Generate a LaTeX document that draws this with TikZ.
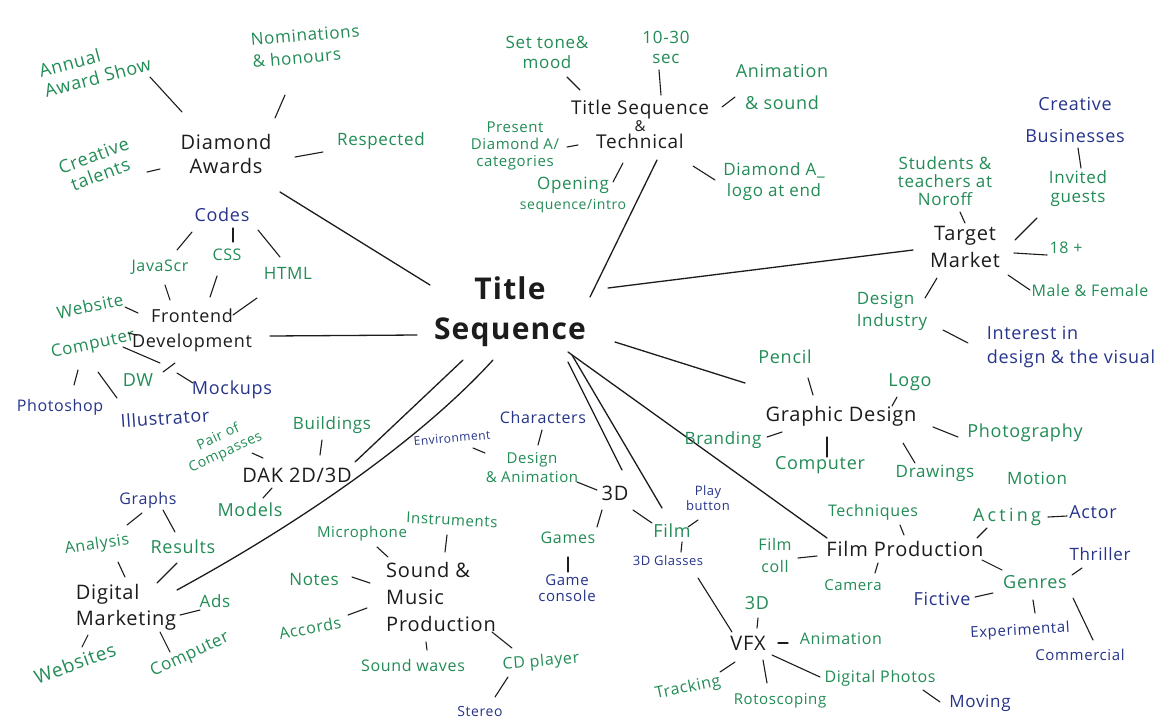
\documentclass[tikz,border=0pt]{standalone}
\usepackage{fontspec}
\setmainfont{Open Sans}[LetterSpace=4]
\usetikzlibrary{calc}
\definecolor{gr}{RGB}{34,140,86}
\definecolor{bl}{RGB}{38,52,138}
\definecolor{ink}{RGB}{28,28,28}
\tikzset{
  fs/.style n args={2}{font=\fontsize{#1}{#2}\selectfont},
  tsnode/.style={text=ink, inner sep=2pt, align=center, font=\bfseries\fontsize{30}{40}\selectfont},
  hub/.style={text=ink, inner sep=2pt, align=center, font=\fontsize{20}{24}\selectfont},
  gl/.style={text=gr, inner sep=2pt, align=center, font=\fontsize{16}{19}\selectfont},
  bll/.style={text=bl, inner sep=2pt, align=center, font=\fontsize{16}{19}\selectfont},
  con/.style={draw=ink, line width=1.1pt, line cap=round},
  mainline/.style={draw=ink, line width=1.3pt, line cap=round},
}
% stroke from node #1 (offset #2 from its centre) to node #3 (offset #4)
\newcommand\mlink[4]{\draw[con] ([shift={#2}]#1.center) -- ([shift={#4}]#3.center);}
\begin{document}
\begin{tikzpicture}[x=1pt,y=-1pt]
\fill[white] (0,0) rectangle (1173,724);
\useasboundingbox (0,0) rectangle (1173,724);

% centre
\node[tsnode] (ts) at (510,312) {Title\\Sequence};

% hubs
\node[hub] (da) at (226,154) {Diamond\\Awards};
\node[hub, fs={19}{17}] (tst) at (640,124) {Title Sequence\\{\fontsize{15}{17}\selectfont\&}\\Technical};
\node[hub, fs={20}{27}] (tm) at (965,247) {Target\\Market};
\node[hub, fs={18}{25}] (fd) at (192,330) {Frontend\\Development};
\node[hub] (dak) at (297,475) {DAK 2D/3D};
\node[hub, fs={20}{26}, align=left] (dm) at (126,607) {Digital\\Marketing};
\node[hub, fs={20}{27}, align=left, anchor=west] (smp) at (384,597) {Sound \&\\Music\\Production};
\coordinate (smpw) at (smp.west);
\node[hub] (d3) at (615,493) {3D};
\node[gl, fs={18}{20}] (film) at (672,531) {Film};
\node[hub] (vfx) at (748,643) {VFX};
\node[hub] (fp) at (905,549) {Film Production};
\node[hub] (gd) at (841,416) {Graphic Design};

% main branches
\draw[mainline] ([shift={(-80,-27)}]ts.center) -- ([shift={(54,38)}]da.center);
\draw[mainline] ([shift={(80,-15)}]ts.center) -- ([shift={(17,36)}]tst.center);
\draw[mainline] ([shift={(98,-24)}]ts.center) -- ([shift={(-52,3)}]tm.center);
\draw[mainline] ([shift={(-93,23)}]ts.center) -- ([shift={(78,6)}]fd.center);
\draw[mainline] ([shift={(-47,48)}]ts.center) -- ([shift={(58,-13)}]dak.center);
\draw[mainline] ([shift={(-17,48)}]ts.center) .. controls +(-73,80) and +(123,-67) .. ([shift={(51,-17)}]dm.center);
\draw[mainline] ([shift={(58,50)}]ts.center) -- ([shift={(7,-23)}]d3.center);
\draw[mainline] ([shift={(62,43)}]ts.center) -- ([shift={(-10,-23)}]film.center);
\draw[mainline] ([shift={(58,40)}]ts.center) -- ([shift={(-78,-11)}]fp.center);
\draw[mainline] ([shift={(105,30)}]ts.center) -- ([shift={(-96,-33)}]gd.center);

% Diamond Awards
\node[gl, fs={18}{21}, align=left, rotate=15] (aas) at (95,67) {Annual\\Award Show};
\node[gl, fs={17}{22}, align=left, rotate=5] (nom) at (306,46) {Nominations\\\& honours};
\node[gl, fs={17}{20}] (resp) at (381,141) {Respected};
\node[gl, fs={18}{20}, rotate=20] (ct) at (97,165) {Creative\\talents};
\mlink{da}{(-44,-42)}{aas}{(55,10)}
\mlink{da}{(49,-36)}{nom}{(-21,49)}
\mlink{da}{(69,3)}{resp}{(-58,11)}
\mlink{da}{(-66,15)}{ct}{(50,7)}

% Title Sequence & Technical
\node[gl, fs={17}{20}] (stm) at (547,52) {Set tone\&\\mood};
\node[gl, fs={17}{20}] (sec) at (666,47) {10-30\\sec};
\node[gl, fs={18}{32}] (ans) at (782,87) {Animation\\\& sound};
\node[gl, fs={15}{17}] (pda) at (515,146) {Present\\Diamond A/\\categories};
\node[gl, fs={17}{20}] (osi) at (573,195) {Opening\\{\fontsize{14}{17}\selectfont sequence/intro}};
\node[gl, fs={17}{21}] (dal) at (774,182) {Diamond A\_\\logo at end};
\mlink{tst}{(-60,-34)}{stm}{(20,25)}
\mlink{tst}{(21,-29)}{sec}{(-7,23)}
\mlink{tst}{(82,-17)}{ans}{(-47,10)}
\mlink{tst}{(-62,21)}{pda}{(52,1)}
\mlink{tst}{(-17,39)}{osi}{(40,-13)}
\mlink{tst}{(53,42)}{dal}{(-59,-2)}

% Target Market
\node[gl, fs={17}{18}] (stn) at (945,181) {Students \&\\teachers at\\Noroff};
\node[bll, fs={18}{32}] (cb) at (1075,120) {Creative\\Businesses};
\node[gl, fs={17}{19}] (ig) at (1078,189) {Invited\\guests};
\node[gl] (e18) at (1066,248) {18 +};
\node[gl] (mf) at (1090,290) {Male \& Female};
\node[gl, fs={17}{22}, align=left] (di) at (892,311) {Design\\Industry};
\node[bll, fs={18}{24}, align=left] (itv) at (1071,347) {Interest in\\design \& the visual};
\mlink{tm}{(0,-24)}{stn}{(15,31)}
\mlink{tm}{(50,-7)}{ig}{(-41,29)}
\mlink{ig}{(3,-21)}{cb}{(3,28)}
\mlink{tm}{(49,6)}{e18}{(-19,7)}
\mlink{tm}{(43,28)}{mf}{(-60,0)}
\mlink{tm}{(-28,31)}{di}{(33,-13)}
\mlink{di}{(51,19)}{itv}{(-103,-4)}

% Frontend Development
\node[bll, fs={18}{20}] (codes) at (222,215) {Codes};
\node[gl] (js) at (160,267) {JavaScr};
\node[gl] (css) at (227,255) {CSS};
\node[gl, fs={17}{20}] (html) at (288,273) {HTML};
\node[gl, fs={17}{20}, rotate=12] (web) at (90,306) {Website};
\node[gl, fs={17}{20}, rotate=12] (comp) at (93,345) {Computer};
\node[gl, fs={18}{20}] (dw) at (138,380) {DW};
\node[bll, fs={18}{20}] (mock) at (232,390) {Mockups};
\node[bll] (ps) at (60,407) {Photoshop};
\node[bll, fs={18}{20}, rotate=4] (ill) at (165,418) {Illustrator};
\mlink{codes}{(-30,17)}{js}{(17,-17)}
\mlink{codes}{(11,13)}{css}{(6,-13)}
\mlink{codes}{(36,15)}{html}{(-8,-16)}
\mlink{fd}{(-22,-30)}{js}{(5,18)}
\mlink{fd}{(18,-33)}{css}{(-10,21)}
\mlink{fd}{(41,-15)}{html}{(-31,25)}
\mlink{fd}{(-54,-17)}{web}{(35,1)}
\mlink{fd}{(-55,5)}{comp}{(35,-12)}
\mlink{comp}{(30,2)}{dw}{(22,-17)}
\mlink{fd}{(-17,33)}{dw}{(25,-8)}
\mlink{dw}{(39,-7)}{mock}{(-39,-7)}
\mlink{comp}{(-15,25)}{ps}{(14,-22)}
\mlink{comp}{(5,27)}{ill}{(-48,-20)}

% DAK 2D/3D
\node[gl, fs={14}{17}, rotate=25] (poc) at (222,445) {Pair of\\Compasses};
\node[gl, fs={17}{20}] (bld) at (332,425) {Buildings};
\node[gl, fs={18}{20}] (mod) at (250,510) {Models};
\mlink{dak}{(-34,-17)}{poc}{(30,8)}
\mlink{dak}{(23,-20)}{bld}{(-10,15)}
\mlink{dak}{(-25,13)}{mod}{(13,-12)}

% Digital Marketing
\node[bll] (gra) at (148,500) {Graphs};
\node[gl, rotate=8] (ana) at (97,545) {Analysis};
\node[gl, fs={18}{20}] (res) at (183,547) {Results};
\node[gl, fs={17}{20}] (ads) at (215,601) {Ads};
\node[gl, fs={19}{20}, rotate=20] (webs) at (75,663) {Websites};
\node[gl, fs={17}{20}, rotate=25] (cmp2) at (190,655) {Computer};
\mlink{gra}{(-6,13)}{ana}{(30,-20)}
\mlink{gra}{(15,10)}{res}{(-8,-15)}
\mlink{dm}{(-1,-30)}{ana}{(21,17)}
\mlink{dm}{(31,-24)}{res}{(-6,16)}
\mlink{dm}{(54,8)}{ads}{(-15,9)}
\mlink{dm}{(-38,28)}{webs}{(7,-16)}
\mlink{dm}{(34,25)}{cmp2}{(-20,-3)}

% Sound & Music Production
\node[gl, fs={15}{18}] (mic) at (362,534) {Microphone};
\node[gl, fs={15}{18}, rotate=-3] (ins) at (452,520) {Instruments};
\node[gl, fs={17}{20}] (notes) at (314,580) {Notes};
\node[gl, rotate=10] (acc) at (310,628) {Accords};
\node[gl] (sw) at (413,665) {Sound waves};
\node[gl, rotate=5] (cd) at (541,662) {CD player};
\node[bll, fs={14}{16}] (ster) at (480,711) {Stereo};
\mlink{smpw}{(4,-40)}{mic}{(15,13)}
\mlink{smpw}{(61,-45)}{ins}{(-5,15)}
\mlink{smpw}{(-14,-14)}{notes}{(38,-3)}
\mlink{smpw}{(-17,11)}{acc}{(38,-13)}
\mlink{smpw}{(42,45)}{sw}{(14,-15)}
\mlink{smpw}{(108,35)}{cd}{(-29,-14)}
\mlink{cd}{(-33,15)}{ster}{(15,-14)}

% 3D
\node[gl, fs={15}{19}] (dan) at (532,468) {Design\\\& Animation};
\node[bll] (chr) at (543,417) {Characters};
\node[bll, fs={12}{14}, rotate=5] (env) at (452,438) {Environment};
\node[gl] (gam) at (568,538) {Games};
\node[bll, fs={15}{16}] (gc) at (567,588) {Game\\console};
\mlink{d3}{(-18,-3)}{dan}{(45,14)}
\mlink{dan}{(6,-23)}{chr}{(-1,13)}
\mlink{dan}{(-47,-15)}{env}{(21,10)}
\mlink{d3}{(-13,17)}{gam}{(29,-11)}
\mlink{gam}{(0,19)}{gc}{(1,-16)}
\mlink{d3}{(18,17)}{film}{(-20,-8)}

% Film
\node[bll, fs={13}{15}] (pb) at (708,498) {Play\\button};
\node[bll, fs={13}{15}] (g3d) at (668,561) {3D Glasses};
\mlink{film}{(16,-4)}{pb}{(-10,22)}
\mlink{film}{(10,11)}{g3d}{(13,-9)}
\mlink{g3d}{(30,17)}{vfx}{(-16,-11)}

% VFX
\node[gl, fs={18}{20}] (v3d) at (757,603) {3D};
\node[gl] (anim) at (841,639) {Animation};
\node[gl, rotate=12] (trk) at (688,688) {Tracking};
\node[gl, fs={15}{18}] (roto) at (780,701) {Rotoscoping};
\node[gl] (dp) at (880,678) {Digital Photos};
\node[bll, fs={17}{20}] (mov) at (980,703) {Moving};
\mlink{vfx}{(9,-15)}{v3d}{(1,15)}
\mlink{vfx}{(30,0)}{anim}{(-53,4)}
\mlink{vfx}{(-13,19)}{trk}{(32,-16)}
\mlink{vfx}{(15,17)}{roto}{(-13,-18)}
\mlink{vfx}{(24,12)}{dp}{(-60,-1)}
\mlink{dp}{(43,12)}{mov}{(-40,-1)}

% Film Production
\node[gl] (tech) at (873,512) {Techniques};
\node[gl, fs={16}{22}] (fc) at (775,555) {Film\\coll};
\node[gl, fs={15}{18}] (cam) at (853,585) {Camera};
\node[gl, font=\fontsize{18}{20}\selectfont\addfontfeature{LetterSpace=18}] (act) at (1007,517) {Acting};
\node[bll, fs={18}{20}] (actor) at (1093,512) {Actor};
\node[gl, fs={18}{20}] (gen) at (1035,582) {Genres};
\node[bll, fs={17}{20}] (thr) at (1100,554) {Thriller};
\node[bll, fs={18}{20}] (fic) at (942,599) {Fictive};
\node[bll, fs={15}{18}, rotate=3] (expe) at (1020,631) {Experimental};
\node[bll, fs={15}{18}] (com) at (1080,655) {Commercial};
\mlink{fp}{(-1,-14)}{tech}{(27,13)}
\mlink{fp}{(-88,7)}{fc}{(23,3)}
\mlink{fp}{(-27,14)}{cam}{(22,-12)}
\mlink{fp}{(72,-11)}{act}{(-20,11)}
\mlink{act}{(41,0)}{actor}{(-26,4)}
\mlink{fp}{(77,11)}{gen}{(-33,-12)}
\mlink{gen}{(37,-7)}{thr}{(-18,14)}
\mlink{gen}{(-42,11)}{fic}{(33,-2)}
\mlink{gen}{(-2,18)}{expe}{(15,-18)}
\mlink{gen}{(38,16)}{com}{(13,-15)}

% Graphic Design
\node[gl, fs={18}{20}] (pen) at (785,357) {Pencil};
\node[gl, fs={18}{20}] (logo) at (910,382) {Logo};
\node[gl, fs={17}{20}] (brd) at (723,440) {Branding};
\node[gl, fs={18}{20}] (cmp3) at (820,465) {Computer};
\node[gl, fs={17}{20}] (drw) at (935,473) {Drawings};
\node[gl, fs={18}{20}] (pho) at (1025,433) {Photography};
\node[gl, fs={17}{20}] (mot) at (1037,478) {Motion};
\mlink{gd}{(-28,-21)}{pen}{(23,21)}
\mlink{gd}{(51,-10)}{logo}{(-13,15)}
\mlink{gd}{(-59,16)}{brd}{(44,-3)}
\mlink{gd}{(-14,21)}{cmp3}{(7,-8)}
\mlink{gd}{(62,27)}{drw}{(-20,-10)}
\mlink{gd}{(92,11)}{pho}{(-67,4)}
\end{tikzpicture}
\end{document}
